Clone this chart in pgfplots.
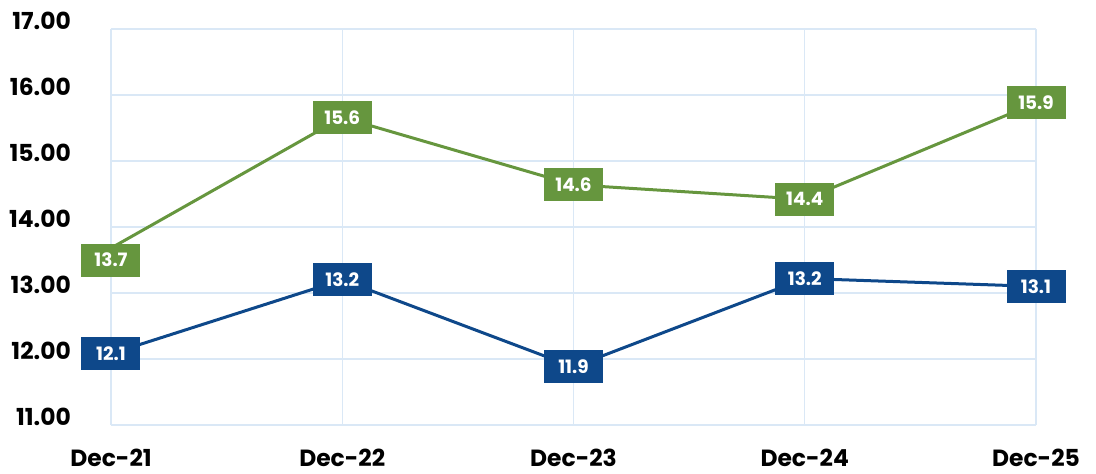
\documentclass[border=0pt]{standalone}
\usepackage{fontspec}
\setmainfont{Poppins}
\usepackage{pgfplots}
\usepackage{pgfplotstable}
\usetikzlibrary{calc}
\pgfplotsset{compat=1.18}
\definecolor{cgreen}{RGB}{102,150,62}
\definecolor{cblue}{RGB}{14,72,138}
\definecolor{cgrid}{RGB}{218,232,246}
\pgfplotstableread{
x y lab dy
0 13.68 13.7 -12
1 15.66 15.6 0
2 14.64 14.6 0
3 14.42 14.4 0
4 15.88 15.9 0
}\green
\pgfplotstableread{
x y lab dy
0 12.08 12.1 0
1 13.20 13.2 0
2 11.88 11.9 0
3 13.22 13.2 0
4 13.10 13.1 0
}\blue
\begin{document}
\begin{tikzpicture}
\begin{axis}[
  name=ax,
  scale only axis, width=925bp, height=396bp,
  xmin=0, xmax=4, ymin=11, ymax=17,
  clip=false,
  xtick={0,1,2,3,4},
  xticklabels={Dec-21,Dec-22,Dec-23,Dec-24,Dec-25},
  ytick={11,12,13,14,15,16,17},
  yticklabel={\pgfmathprintnumber[fixed,fixed zerofill,precision=2]{\tick}},
  /pgf/number format/assume math mode=true,
  grid=major,
  major grid style={draw=cgrid, line width=1.3bp},
  axis line style={draw=none},
  tick style={draw=none},
  yticklabel style={anchor=base east, inner sep=0pt, xshift=-40bp, font=\fontsize{23.5}{26}\selectfont\bfseries, text=black},
  xticklabel style={anchor=base, inner sep=0pt, yshift=-41bp, font=\fontsize{23.5}{26}\selectfont\bfseries, text=black},
  nodes near coords,
  point meta=explicit symbolic,
  visualization depends on={\thisrow{dy}\as\dy},
  nodes near coords style={anchor=center, yshift=\dy bp, inner sep=0pt, minimum width=59bp, minimum height=33bp, text=white, font=\fontsize{18.5}{20}\selectfont\bfseries},
]
\addplot[cgreen, line width=3bp, mark=none, nodes near coords style={fill=cgreen}] table[x=x, y=y, meta=lab] {\green};
\addplot[cblue, line width=3bp, mark=none, nodes near coords style={fill=cblue}] table[x=x, y=y, meta=lab] {\blue};
\end{axis}
\pgfresetboundingbox
\path ($(ax.south west)+(-111bp,-49bp)$) rectangle ($(ax.south west)+(985bp,425bp)$);
\end{tikzpicture}
\end{document}
